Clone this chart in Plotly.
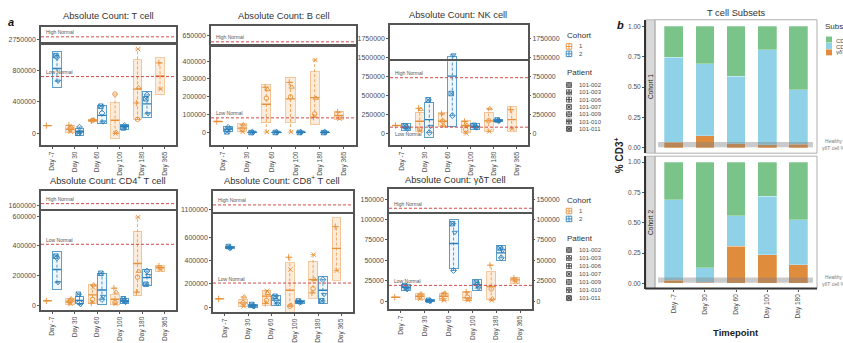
import plotly.graph_objects as go

W, H = 843, 343
FONT = "Liberation Sans, Arial, sans-serif"

# ---------------------------------------------------------------- data ----
DAYS = ["Day -7", "Day 30", "Day 60", "Day 100", "Day 180", "Day 365"]
COHORT1_PATIENTS = ["101-002", "101-003", "101-006", "101-007"]
COHORT2_PATIENTS = ["101-009", "101-010", "101-011"]
PATIENTS = COHORT1_PATIENTS + COHORT2_PATIENTS

# Box = (lower, centre, upper) per day; points = one value per patient of the cohort
T_C1_BOX = [(100000, 100000, 100000), (12000, 54000, 104000), (146000, 167000, 179000),
            (-62000, 167000, 387000), (179000, 563000, 938000), (492000, 729000, 958000)]
T_C1_PTS = [[None, None, 100000, None], [60000, 85000, 104000, 22000], [165000, 175000, 160000, None],
            [500000, 15000, None, 0], [179000, 583000, 387000, 1071000], [None, None, 896000, 563000]]
T_C2_BOX = [(583000, 825000, 1042000), (-21000, 21000, 62000), (125000, 229000, 354000),
            (54000, 92000, 112000), (208000, 375000, 533000), None]
T_C2_PTS = [[967000, 663000, 988000], [80000, 20000, 2000], [260000, 146000, 346000],
            [100000, 85000, 70000], [490000, 250000, 440000], [None, None, None]]
T_LOW, T_HIGH = 722000, 2780000

B_C1_BOX = [(63000, 63000, 63000), (7000, 26000, 50000), (56000, 159000, 267000),
            (59000, 189000, 309000), (44000, 196000, 341000), (74000, 96000, 119000)]
B_C1_PTS = [[None, None, 63000, None], [20000, 45000, None, 5000], [193000, 241000, 254000, 4000],
            [200000, 255000, 281000, 4000], [105000, 193000, 87000, 406000], [None, None, 115000, 78000]]
B_C2_BOX = [(7000, 20000, 35000), (500, 2000, 3500), (1000, 2200, 3500),
            (1000, 2500, 4000), (500, 2000, 3500), None]
B_C2_PTS = [[30000, 20000, 5000], [3000, 2000, 1000], [3000, 2000, 1500],
            [3500, 2500, 1500], [3000, 2000, 1000], [None, None, None]]
B_LOW, B_HIGH = 83000, 615000

NK_C1_BOX = [(108000, 108000, 108000), (34000, 164000, 280000), (99000, 164000, 272000),
             (22000, 108000, 172000), (30000, 168000, 280000), (30000, 185000, 358000)]
NK_C1_PTS = [[None, None, 108000, None], [60000, 320000, 332000, 43000], [165000, 105000, 260000, None],
             [55000, 110000, 160000, 5000], [170000, 330000, None, 30000], [None, None, 315000, 65000]]
NK_C2_BOX = [(43000, 86000, 129000), (-43000, 185000, 409000), (95000, 754000, 1505000),
             (56000, 95000, 129000), (165000, 172000, 180000), None]
NK_C2_PTS = [[90000, 60000, 100000], [15000, 95000, 444000], [237000, 1530000, 526000],
             [95000, 75000, 110000], [172000, 165000, 180000], [None, None, None]]
NK_LOW, NK_HIGH = 86000, 733000

CD4_C1_BOX = [(31000, 31000, 31000), (9000, 29000, 47000), (16000, 71000, 142000),
              (8000, 42000, 75000), (64000, 282000, 498000), (231000, 253000, 267000)]
CD4_C1_PTS = [[None, None, 31000, None], [30000, 45000, 20000, 10000], [40000, 138000, 16000, 120000],
              [20000, 90000, 116000, 10000], [190000, 230000, 89000, 593000], [None, None, 265000, 240000]]
CD4_C2_BOX = [(109000, 242000, 364000), (16000, 33000, 60000), (4000, 104000, 216000),
              (16000, 31000, 49000), (133000, 187000, 244000), None]
CD4_C2_PTS = [[320000, 153000, 331000], [20000, 5000, 75000], [40000, 60000, 216000],
              [30000, 20000, 45000], [231000, 200000, 142000], [None, None, None]]
CD4_LOW, CD4_HIGH = 411000, 1613000

CD8_C1_BOX = [(73000, 73000, 73000), (6000, 39000, 68000), (20000, 96000, 146000),
              (-40000, 146000, 380000), (76000, 237000, 394000), (231000, 504000, 766000)]
CD8_C1_PTS = [[None, None, 73000, None], [40000, 90000, None, 10000], [60000, 120000, 34000, 141000],
              [10000, 20000, 428000, 324000], [160000, 240000, 124000, 451000], [None, None, 690000, 315000]]
CD8_C2_BOX = [(504000, 513000, 521000), (3000, 15000, 27000), (20000, 62000, 104000),
              (34000, 48000, 62000), (34000, 146000, 265000), None]
CD8_C2_PTS = [[510000, 505000, 520000], [15000, 5000, 25000], [60000, 30000, 95000],
              [45000, 40000, 55000], [237000, 110000, 56000], [None, None, None]]
CD8_LOW, CD8_HIGH = 208000, 1137000

GD_C1_BOX = [(4800, 4800, 4800), (2000, 6000, 9300), (1200, 6000, 9300),
             (1200, 4000, 12000), (2000, 18000, 36000), (22000, 26000, 29000)]
GD_C1_PTS = [[None, None, 4800, None], [6000, 9000, None, 3000], [8000, 10000, 3000, 1000],
             [5000, 2000, 11000, 1000], [15000, 3000, 44000, 1000], [None, None, 28000, 24000]]
GD_C2_BOX = [(13000, 17000, 20000), (-500, 500, 1500), (40000, 70500, 100000),
             (13000, 20000, 26000), (50000, 59000, 68000), None]
GD_C2_PTS = [[17000, 14000, 19000], [500, 0, 1000], [37500, 84000, 94700],
             [20000, 16000, 23000], [53000, 62000, 65000], [None, None, None]]
GD_LOW, GD_HIGH = 19300, 139000

# T cell subset fractions of CD3+ cells
SUBSET_DAYS = ["Day -7", "Day 30", "Day 60", "Day 100", "Day 180"]
SUBSETS = ["CD4<sup>+</sup> T cell", "CD8<sup>+</sup> T cell", "γδT cell"]
C1_GD = [0.046, 0.098, 0.033, 0.025, 0.030]
C1_CD8 = [0.701, 0.594, 0.558, 0.782, 0.447]
C1_CD4 = [0.253, 0.308, 0.409, 0.193, 0.523]
C2_GD = [0.024, 0.010, 0.307, 0.236, 0.155]
C2_CD8 = [0.666, 0.118, 0.250, 0.481, 0.369]
C2_CD4 = [0.310, 0.872, 0.443, 0.283, 0.476]
HEALTHY_GD = (0.005, 0.048)

CELLS = {
    "T": (T_C1_BOX, T_C1_PTS, T_C2_BOX, T_C2_PTS, T_LOW, T_HIGH),
    "B": (B_C1_BOX, B_C1_PTS, B_C2_BOX, B_C2_PTS, B_LOW, B_HIGH),
    "NK": (NK_C1_BOX, NK_C1_PTS, NK_C2_BOX, NK_C2_PTS, NK_LOW, NK_HIGH),
    "CD4": (CD4_C1_BOX, CD4_C1_PTS, CD4_C2_BOX, CD4_C2_PTS, CD4_LOW, CD4_HIGH),
    "CD8": (CD8_C1_BOX, CD8_C1_PTS, CD8_C2_BOX, CD8_C2_PTS, CD8_LOW, CD8_HIGH),
    "GD": (GD_C1_BOX, GD_C1_PTS, GD_C2_BOX, GD_C2_PTS, GD_LOW, GD_HIGH),
}

# --------------------------------------------------------------- style ----
SYMBOLS = {"101-002": "circle-open", "101-003": "triangle-up-open", "101-006": "cross-thin-open",
           "101-007": "x-thin-open", "101-009": "diamond-open", "101-010": "triangle-down-open",
           "101-011": "square-x-open"}
COL = {1: "#E8913A", 2: "#2A7FBA"}
BOX_FILL = {1: "rgba(244,186,130,0.28)", 2: "rgba(42,127,186,0.07)"}
BOX_EDGE = {1: "rgba(236,160,90,0.55)", 2: "rgba(42,127,186,0.75)"}
WHISK = {1: "rgba(232,145,58,0.75)", 2: "rgba(42,127,186,0.8)"}
OFFSET = {1: -0.21, 2: 0.21}
HALF, CAP = 0.19, 0.11
JITTER = [0.0, 0.05, -0.05, 0.025]
RED = "#D4494A"
TXT = "#4D4D4D"
SUB_COL = ["#7BC489", "#8FD2E7", "#E08C3D"]

PANELS = [
    dict(cell="T", title="Absolute Count: T cell", tx=108, ty=16, x=(41, 176), top=(27, 42), main=(46, 147),
         rng=(-150000, 1117000), trng=(2721000, 2908000), ticks=[0, 400000, 800000], tticks=[2750000],
         right=False, low_below=False),
    dict(cell="B", title="Absolute Count: B cell", tx=283, ty=16, x=(211, 356), top=(26, 45), main=(48, 147),
         rng=(-70000, 476000), trng=(600000, 706000), ticks=[0, 100000, 200000, 300000, 400000],
         tticks=[650000], right=False, low_below=False),
    dict(cell="NK", title="Absolute Count: NK cell", tx=458, ty=15, x=(390, 528), top=(25, 60), main=(62, 147),
         rng=(-151000, 948000), trng=(1474000, 1925000), ticks=[0, 250000, 500000, 750000],
         tticks=[1500000, 1750000], right=True, low_below=True),
    dict(cell="CD4", title="Absolute Count: CD4<sup>+</sup> T cell", tx=108, ty=182, x=(41, 176), top=(193, 211),
         main=(213, 314), rng=(-33000, 638000), trng=(1580000, 1700000), ticks=[0, 200000, 400000, 600000],
         tticks=[1600000], right=False, low_below=False),
    dict(cell="CD8", title="Absolute Count: CD8<sup>+</sup> T cell", tx=282, ty=182, x=(213, 353), top=(193, 214),
         main=(217, 316), rng=(-42000, 794000), trng=(1080000, 1260000), ticks=[0, 200000, 400000, 600000],
         tticks=[1100000], right=False, low_below=False),
    dict(cell="GD", title="Absolute Count: γδT cell", tx=455, ty=182, x=(389, 532), top=(191, 214),
         main=(217, 313), rng=(-10000, 106000), trng=(135000, 163000), ticks=[0, 25000, 50000, 75000, 100000],
         tticks=[150000], right=True, low_below=False),
]


def xdom(a, b):
    return [a / W, b / W]


def ydom(a, b):
    return [1 - b / H, 1 - a / H]


def ref(prefix, n):
    return prefix if n == 1 else f"{prefix}{n}"


def key(prefix, n):
    return f"{prefix}axis" if n == 1 else f"{prefix}axis{n}"


fig = go.Figure()
layout = {}
annotations = []
shapes = []


def note(text, x, y, size, color=TXT, xanchor="center", yanchor="middle", **kw):
    annotations.append(dict(text=text, x=x / W, y=1 - y / H, xref="paper", yref="paper", showarrow=False,
                            xanchor=xanchor, yanchor=yanchor,
                            font=dict(size=size, color=color, family=FONT), **kw))


def add_cohort(boxes, pts, cohort, xa, ya):
    patients = COHORT1_PATIENTS if cohort == 1 else COHORT2_PATIENTS
    off = OFFSET[cohort]
    bx, base, height, mx, my = [], [], [], [], []
    for i, b in enumerate(boxes):
        if b is None:
            continue
        lo, mid, hi = b
        bx.append(i + off)
        base.append(lo)
        height.append(hi - lo)
        mx += [i + off - HALF, i + off + HALF, None]
        my += [mid, mid, None]
    fig.add_trace(go.Bar(x=bx, y=height, base=base, width=2 * HALF, xaxis=xa, yaxis=ya,
                         marker=dict(color=BOX_FILL[cohort], line=dict(color=BOX_EDGE[cohort], width=1)),
                         hoverinfo="skip", showlegend=False))
    wx, wy, cx, cy = [], [], [], []
    px, py, sym = [], [], []
    for i, day in enumerate(pts):
        vals = [v for v in day if v is not None]
        for j, v in enumerate(day):
            if v is not None:
                px.append(i + off + JITTER[j])
                py.append(v)
                sym.append(SYMBOLS[patients[j]])
        if len(vals) < 2:
            continue
        lo, hi = min(vals), max(vals)
        wx += [i + off, i + off, None]
        wy += [lo, hi, None]
        cx += [i + off - CAP, i + off + CAP, None, i + off - CAP, i + off + CAP, None]
        cy += [lo, lo, None, hi, hi, None]
    fig.add_trace(go.Scatter(x=wx, y=wy, mode="lines", xaxis=xa, yaxis=ya, hoverinfo="skip", showlegend=False,
                             line=dict(color=WHISK[cohort], width=1, dash="3px,2px")))
    fig.add_trace(go.Scatter(x=cx, y=cy, mode="lines", xaxis=xa, yaxis=ya, hoverinfo="skip", showlegend=False,
                             line=dict(color=WHISK[cohort], width=1)))
    fig.add_trace(go.Scatter(x=mx, y=my, mode="lines", xaxis=xa, yaxis=ya, hoverinfo="skip", showlegend=False,
                             line=dict(color=COL[cohort], width=1.4)))
    fig.add_trace(go.Scatter(x=px, y=py, mode="markers", xaxis=xa, yaxis=ya, hoverinfo="skip", showlegend=False,
                             marker=dict(symbol=sym, size=4.5, color=COL[cohort],
                                         line=dict(color=COL[cohort], width=0.9))))


axis_line = dict(showline=True, mirror=True, linecolor="#555555", linewidth=1.5, showgrid=False, zeroline=False)
right_axis_id = 13

for p, cfg in enumerate(PANELS):
    c1_box, c1_pts, c2_box, c2_pts, low, high = CELLS[cfg["cell"]]
    m, t = 2 * p + 1, 2 * p + 2
    layout[key("x", m)] = dict(domain=xdom(*cfg["x"]), anchor=ref("y", m), range=[-0.5, 5.5],
                               tickvals=list(range(6)), ticktext=DAYS, tickangle=-90, ticks="outside",
                               ticklen=2, tickcolor="#555555", tickfont=dict(size=6.5, color=TXT), **axis_line)
    layout[key("x", t)] = dict(domain=xdom(*cfg["x"]), anchor=ref("y", t), range=[-0.5, 5.5],
                               showticklabels=False, ticks="", **axis_line)
    layout[key("y", m)] = dict(domain=ydom(*cfg["main"]), anchor=ref("x", m), range=list(cfg["rng"]),
                               tickvals=cfg["ticks"], tickformat="d", ticks="outside", ticklen=2,
                               tickcolor="#555555", tickfont=dict(size=7, color=TXT), **axis_line)
    layout[key("y", t)] = dict(domain=ydom(*cfg["top"]), anchor=ref("x", t), range=list(cfg["trng"]),
                               tickvals=cfg["tticks"], tickformat="d", ticks="outside", ticklen=2,
                               tickcolor="#555555", tickfont=dict(size=7, color=TXT), **axis_line)

    pairs = [(ref("x", m), ref("y", m)), (ref("x", t), ref("y", t))]
    line_pairs = list(pairs)
    if cfg["right"]:
        for src, rng, tv in ((m, cfg["rng"], cfg["ticks"]), (t, cfg["trng"], cfg["tticks"])):
            layout[key("y", right_axis_id)] = dict(overlaying=ref("y", src), anchor=ref("x", src), side="right",
                                                   range=list(rng), tickvals=tv, tickformat="d", ticks="outside",
                                                   ticklen=2, tickcolor="#555555", showgrid=False, zeroline=False,
                                                   showline=False, tickfont=dict(size=7, color=TXT))
            line_pairs[0 if src == m else 1] = (ref("x", src), ref("y", right_axis_id))
            right_axis_id += 1

    for xa, ya in pairs:
        add_cohort(c1_box, c1_pts, 1, xa, ya)
        add_cohort(c2_box, c2_pts, 2, xa, ya)
    for xa, ya in line_pairs:
        for level in (low, high):
            fig.add_trace(go.Scatter(x=[-0.5, 5.5], y=[level, level], mode="lines", xaxis=xa, yaxis=ya,
                                     hoverinfo="skip", showlegend=False,
                                     line=dict(color=RED, width=1, dash="3px,2px")))

    # reference-range labels, placed on whichever part of the broken axis holds the level
    for level, text, below in ((high, "High Normal", False), (low, "Low Normal", cfg["low_below"])):
        in_top = cfg["trng"][0] <= level <= cfg["trng"][1]
        annotations.append(dict(text=text, x=(cfg["x"][0] + 3) / W, xref="paper", xanchor="left",
                                y=level, yref=ref("y", t if in_top else m), yanchor="middle",
                                yshift=-7 if below else 4.5, showarrow=False,
                                font=dict(size=5, color="#555555", family=FONT)))
    note(cfg["title"], cfg["tx"], cfg["ty"], 9.3, color="#333333")

# -------------------------------------------------------- legends (a) ----
layout["xaxis19"] = dict(domain=[0, 1], range=[0, W], visible=False, anchor="y19", fixedrange=True)
layout["yaxis19"] = dict(domain=[0, 1], range=[H, 0], visible=False, anchor="x19", fixedrange=True)

legend_blocks = [dict(cohort_title=36, cohort_rows=(47, 54.5), patient_title=73, first=86, step=7.4),
                 dict(cohort_title=203, cohort_rows=(213.5, 221.5), patient_title=241, first=253, step=8.1)]
gx, tx0 = 569, 577
for blk in legend_blocks:
    note("Cohort", 565, blk["cohort_title"], 8, color="#333333", xanchor="left")
    note("Patient", 565, blk["patient_title"], 8, color="#333333", xanchor="left")
    for c, yy in zip((1, 2), blk["cohort_rows"]):
        fig.add_trace(go.Scatter(x=[gx], y=[yy], mode="markers", xaxis="x19", yaxis="y19", hoverinfo="skip",
                                 showlegend=False, cliponaxis=False,
                                 marker=dict(symbol="square-cross-open", size=5.5, color=COL[c],
                                             line=dict(color=COL[c], width=0.9))))
        note(str(c), tx0, yy, 6, xanchor="left")
    ys = [blk["first"] + blk["step"] * k for k in range(len(PATIENTS))]
    fig.add_trace(go.Scatter(x=[gx] * len(PATIENTS), y=ys, mode="markers", xaxis="x19", yaxis="y19",
                             hoverinfo="skip", showlegend=False, cliponaxis=False,
                             marker=dict(symbol="square-cross-open", size=5, color="#3a3a3a",
                                         line=dict(color="#3a3a3a", width=0.7))))
    fig.add_trace(go.Scatter(x=[gx] * len(PATIENTS), y=ys, mode="markers", xaxis="x19", yaxis="y19",
                             hoverinfo="skip", showlegend=False, cliponaxis=False,
                             marker=dict(symbol=[SYMBOLS[q] for q in PATIENTS], size=4, color="#3a3a3a",
                                         line=dict(color="#3a3a3a", width=0.7))))
    for q, yy in zip(PATIENTS, ys):
        note(q, tx0, yy, 6, xanchor="left")

note("<b><i>a</i></b>", 11, 22, 11, color="#111111")

# ------------------------------------------------------------- panel b ----
B_X = (655, 817)
B_PANELS = [dict(n=17, y=(20, 155), rng=(-0.045, 1.055), label="Cohort 1", note_y=146,
                 data=(C1_GD, C1_CD8, C1_CD4)),
            dict(n=18, y=(158, 292), rng=(-0.043, 1.049), label="Cohort 2", note_y=284,
                 data=(C2_GD, C2_CD8, C2_CD4))]
for bp in B_PANELS:
    n = bp["n"]
    layout[key("x", n)] = dict(domain=xdom(*B_X), anchor=ref("y", n), type="category", range=[-0.6, 4.6],
                               showticklabels=(n == 18), tickangle=-90, ticks="outside" if n == 18 else "",
                               ticklen=2, tickcolor="#555555", tickfont=dict(size=6.5, color=TXT),
                               showline=False, showgrid=False, zeroline=False)
    layout[key("y", n)] = dict(domain=ydom(*bp["y"]), anchor="free", position=645 / W, range=list(bp["rng"]),
                               tickvals=[0, 0.25, 0.5, 0.75, 1.0], ticktext=["0.00", "0.25", "0.50", "0.75", "1.00"],
                               ticks="outside", ticklen=2, tickcolor="#555555", tickfont=dict(size=6.5, color=TXT),
                               showline=True, linecolor="#333333", linewidth=2, showgrid=False, zeroline=False)
    # γδT at the bottom, CD8 in the middle, CD4 on top
    for vals, colr in zip(bp["data"], (SUB_COL[2], SUB_COL[1], SUB_COL[0])):
        fig.add_trace(go.Bar(x=SUBSET_DAYS, y=vals, width=0.6, xaxis=ref("x", n), yaxis=ref("y", n),
                             marker=dict(color=colr, line=dict(color="rgba(255,255,255,0.45)", width=0.6)),
                             hoverinfo="skip", showlegend=False))
    shapes.append(dict(type="rect", xref=ref("x", n), yref=ref("y", n), x0=-0.5, x1=4.47,
                       y0=HEALTHY_GD[0], y1=HEALTHY_GD[1], fillcolor="rgba(128,128,128,0.42)",
                       line=dict(width=0), layer="above"))
    y0, y1 = bp["y"]
    shapes.append(dict(type="rect", xref="paper", yref="paper", x0=B_X[0] / W, x1=B_X[1] / W,
                       y0=1 - y1 / H, y1=1 - y0 / H, line=dict(color="#AFAFAF", width=1), layer="above"))
    shapes.append(dict(type="rect", xref="paper", yref="paper", x0=646 / W, x1=655 / W,
                       y0=1 - y1 / H, y1=1 - y0 / H, fillcolor="#D9D9D9",
                       line=dict(color="#AFAFAF", width=0.8), layer="below"))
    annotations.append(dict(text=bp["label"], x=650.5 / W, y=1 - (y0 + y1) / 2 / H, xref="paper", yref="paper",
                            xanchor="center", yanchor="middle", textangle=-90, showarrow=False,
                            font=dict(size=6.5, color="#1A1A1A", family=FONT)))
    note("Healthy<br>γδT cell %", 834, bp["note_y"], 5, color="#7A7A7A")

shapes.append(dict(type="line", xref="paper", yref="paper", x0=645 / W, x1=817 / W, y0=1 - 292 / H,
                   y1=1 - 292 / H, line=dict(color="#333333", width=2)))

note("T cell Subsets", 736, 13, 9.3, color="#333333")
note("<b><i>b</i></b>", 620, 25, 11, color="#111111")
annotations.append(dict(text="<b>% CD3<sup>+</sup></b>", x=619 / W, y=1 - 157 / H, xref="paper", yref="paper",
                        xanchor="center", yanchor="middle", textangle=-90, showarrow=False,
                        font=dict(size=10, color="#222222", family=FONT)))
note("<b>Timepoint</b>", 736, 336, 9.5, color="#222222")

# subset legend (runs off the right edge of the page)
note("Subset", 823, 27, 8, color="#333333", xanchor="left")
sub_y = [40, 46.5, 53]
fig.add_trace(go.Scatter(x=[829] * 3, y=sub_y, mode="markers", xaxis="x19", yaxis="y19", hoverinfo="skip",
                         showlegend=False, cliponaxis=False,
                         marker=dict(symbol="square", size=6, color=SUB_COL)))
for s, yy in zip(SUBSETS, sub_y):
    note(s, 834, yy, 6, xanchor="left")

layout.update(width=W, height=H, margin=dict(l=0, r=0, t=0, b=0), paper_bgcolor="white",
              plot_bgcolor="rgba(0,0,0,0)", barmode="stack", showlegend=False,
              font=dict(family=FONT, color=TXT), annotations=annotations, shapes=shapes)
fig.update_layout(**layout)
fig.write_html("out.html")
